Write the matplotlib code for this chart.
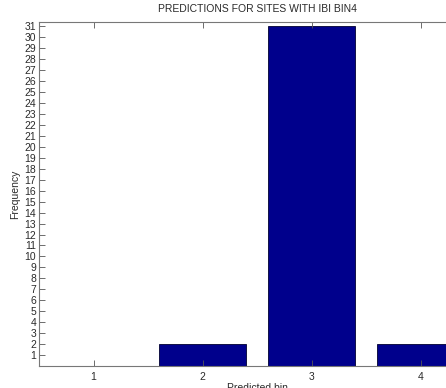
import matplotlib
matplotlib.use("Agg")
import matplotlib.pyplot as plt

# Prediction counts per bin
bins = [1, 2, 3, 4]
counts = [0, 2, 31, 2]
ytick_values = list(range(1, 32))

title_text = "PREDICTIONS FOR SITES WITH IBI BIN4"
xlabel_text = "Predicted bin"
ylabel_text = "Frequency"

plt.rcParams['font.family'] = ['Liberation Sans', 'DejaVu Sans']

W, H = 446, 388
fig = plt.figure(figsize=(W / 100, H / 100), dpi=100)
left, bottom, top = 39, 366, 22
ax = fig.add_axes([left / W, (H - bottom) / H, 436 / W, (bottom - top) / H])

ax.bar(bins, counts, width=0.8, color='#00008C', edgecolor='#000030', linewidth=0.6)

ax.set_xlim(0.5, 4.5)
ax.set_ylim(0, 31.4)
ax.set_xticks(bins)
ax.set_yticks(ytick_values)

text_color = '#2a2a2a'
ax.tick_params(axis='both', direction='in', length=4, width=0.6, colors='#555555',
               labelcolor=text_color, labelsize=7.5, top=True, right=True, pad=2)
ax.tick_params(axis='x', pad=4)
for s in ax.spines.values():
    s.set_color('#777777')
    s.set_linewidth(0.8)

ax.set_title(title_text, fontsize=7.5, color=text_color, pad=7)
ax.set_xlabel(xlabel_text, fontsize=7.5, color=text_color, labelpad=1)
ax.set_ylabel(ylabel_text, fontsize=7.5, color=text_color, labelpad=3)

fig.savefig("out.png", dpi=100)
